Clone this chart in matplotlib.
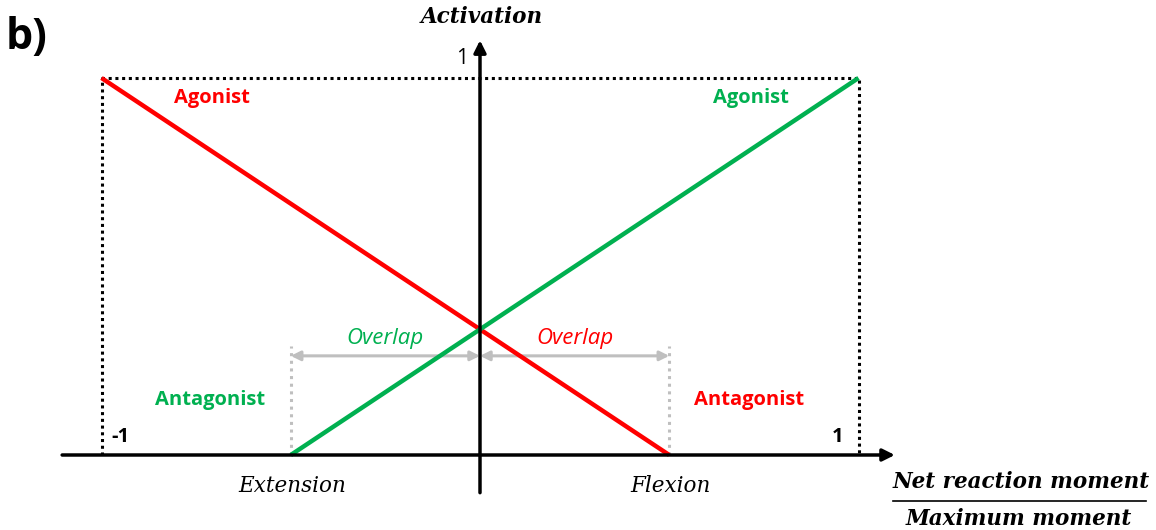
import matplotlib
matplotlib.use("Agg")
import matplotlib.pyplot as plt

# data
x_limits = [-1, 1]
agonist_ext_x = [-1.0, 0.5]      # red line (extension agonist)
agonist_ext_y = [1.0, 0.0]
agonist_flex_x = [-0.5, 1.0]     # green line (flexion agonist)
agonist_flex_y = [0.0, 1.0]
overlap_bounds = [-0.5, 0.0, 0.5]
overlap_y = 0.263
RED = "#FF0000"
GREEN = "#00B050"
GRAY = "#BFBFBF"

fig = plt.figure(figsize=(11.56, 5.30), dpi=100)
ax = fig.add_axes([0, 0, 1, 1])
ax.set_xlim(-480 / 378.5, (1156 - 480) / 378.5)
ax.set_ylim(-(530 - 455) / 377, 455 / 377)
ax.axis("off")

sans = "Open Sans"
serif = "DejaVu Serif"

def px(xp):
    return (xp - 480) / 378.5

def py(yp):
    return (455 - yp) / 377

# dotted frame
ax.plot([-1, -1, 1, 1], [0, 1, 1, 0], ls=(0, (1, 1.2)), color="black", lw=2.2, zorder=2)

# gray dotted verticals
for xv in (overlap_bounds[0], overlap_bounds[2]):
    ax.plot([xv, xv], [0, 0.29], ls=(0, (1, 1.5)), color=GRAY, lw=2.2, zorder=2)

# overlap double arrows
for a, b in ((overlap_bounds[0], overlap_bounds[1]), (overlap_bounds[1], overlap_bounds[2])):
    ax.annotate("", xy=(b, overlap_y), xytext=(a, overlap_y),
                arrowprops=dict(arrowstyle="<|-|>", color=GRAY, lw=2.2,
                                mutation_scale=14, shrinkA=0, shrinkB=0), zorder=3)

# lines
ax.plot(agonist_ext_x, agonist_ext_y, color=RED, lw=3.2, zorder=4, solid_capstyle="butt")
ax.plot(agonist_flex_x, agonist_flex_y, color=GREEN, lw=3.2, zorder=4, solid_capstyle="butt")

# axes arrows
ax.annotate("", xy=(1.096, 0), xytext=(-1.104, 0),
            arrowprops=dict(arrowstyle="-|>", color="black", lw=2.5,
                            mutation_scale=18, shrinkA=0, shrinkB=0), zorder=5)
ax.annotate("", xy=(0, 1.10), xytext=(0, -0.1),
            arrowprops=dict(arrowstyle="-|>", color="black", lw=2.5,
                            mutation_scale=18, shrinkA=0, shrinkB=0), zorder=5)

# labels
fs = 14.5
ax.text(-0.708, 0.947, "Agonist", color=RED, fontsize=fs, fontweight="bold", family=sans, ha="center", va="center")
ax.text(0.716, 0.947, "Agonist", color=GREEN, fontsize=fs, fontweight="bold", family=sans, ha="center", va="center")
ax.text(-0.713, 0.146, "Antagonist", color=GREEN, fontsize=fs, fontweight="bold", family=sans, ha="center", va="center")
ax.text(0.711, 0.146, "Antagonist", color=RED, fontsize=fs, fontweight="bold", family=sans, ha="center", va="center")
ax.text(-0.25, 0.31, "Overlap", color=GREEN, fontsize=16, style="italic", family=sans, ha="center", va="center")
ax.text(0.25, 0.31, "Overlap", color=RED, fontsize=16, style="italic", family=sans, ha="center", va="center")
ax.text(-0.95, 0.048, "-1", color="black", fontsize=fs, fontweight="bold", family=sans, ha="center", va="center")
ax.text(0.946, 0.048, "1", color="black", fontsize=fs, fontweight="bold", family=sans, ha="center", va="center")
ax.text(-0.048, 1.053, "1", color="black", fontsize=15, family=sans, ha="center", va="center")

sfs = 15.5
ax.text(px(482), py(17), "Activation", fontsize=sfs, fontweight="bold", style="italic", family=serif, ha="center", va="center")
ax.text(px(292), py(486), "Extension", fontsize=sfs, style="italic", family=serif, ha="center", va="center")
ax.text(px(671), py(486), "Flexion", fontsize=sfs, style="italic", family=serif, ha="center", va="center")
ax.text(px(1021), py(482), "Net reaction moment", fontsize=sfs, fontweight="bold",
        style="italic", family=serif, ha="center", va="center")
ax.plot([px(893), px(1146)], [py(501)] * 2, color="black", lw=1.2)
ax.text(px(1019), py(519), "Maximum moment", fontsize=sfs, fontweight="bold",
        style="italic", family=serif, ha="center", va="center")

ax.text(px(27), py(38), "b)", fontsize=31, fontweight="bold", family=sans, ha="center", va="center")

fig.savefig("out.png", dpi=100)
